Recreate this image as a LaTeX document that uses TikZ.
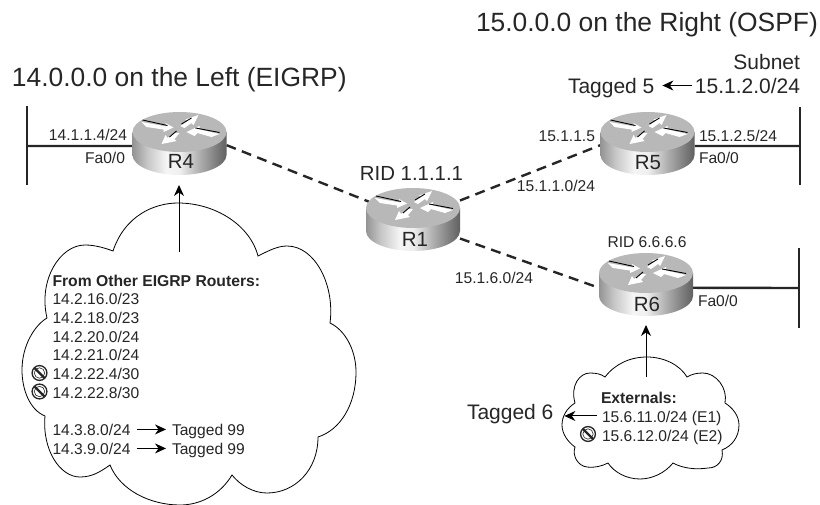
\documentclass[tikz,border=0pt]{standalone}
\usepackage{fontspec}
\setmainfont{Liberation Sans}
\usetikzlibrary{arrows.meta,calc}
\definecolor{ink}{HTML}{262626}
\pgfdeclarehorizontalshading{routerbody}{100bp}{
 color(0bp)=(black!42); color(25bp)=(black!42); color(33bp)=(black!22); color(43bp)=(black!4);
 color(50bp)=(black!6); color(60bp)=(black!30); color(70bp)=(black!52); color(75bp)=(black!62); color(100bp)=(black!62)}
\tikzset{
 txt/.style={inner sep=0pt,outer sep=0pt,text=ink,anchor=base west,font=\fontsize{15.6}{18}\selectfont},
 txtr/.style={txt,anchor=base east},
 big/.style={font=\fontsize{21}{25}\selectfont},
 title/.style={font=\fontsize{26.4}{30}\selectfont},
 rlabel/.style={inner sep=0pt,text=ink,anchor=base,font=\fontsize{20.5}{24}\selectfont},
 routerbox/.style={rectangle,minimum width=94pt,minimum height=63pt,inner sep=0pt,outer sep=0pt},
 wire/.style={line width=2.4pt,draw=black!85},
 bar/.style={line width=2.6pt,draw=black!85},
 wan/.style={line width=2.4pt,draw=black!85,dash pattern=on 10pt off 6.5pt},
 flow/.style={line width=1pt,draw=black,-{Stealth[length=11pt,width=10pt]}},
 cloudline/.style={line width=0.8pt,draw=black,fill=white},
 edgeline/.style={black,line width=.9pt},
}
\newcommand{\routerart}[2]{%
 \begin{scope}[shift={(#1,#2)}]
  \shade[shading=routerbody] (-47,0) -- (-47,23) .. controls (-47,34) and (-26,43) .. (0,43)
     .. controls (26,43) and (47,34) .. (47,23) -- (47,0) -- cycle;
  \fill[black!28] (-47,0) .. controls (-47,-11) and (-26,-20) .. (0,-20)
     .. controls (26,-20) and (47,-11) .. (47,0) .. controls (47,11) and (26,20) .. (0,20)
     .. controls (-26,20) and (-47,11) .. (-47,0) -- cycle;
  % white arrows
  \fill[white] (-38,-10) -- (-13,-5.5) -- (-14,-9) -- (-6,-4.5) -- (-16,0) -- (-16,-2.5) -- (-33,-5) -- cycle;
  \draw[edgeline] (-37,-12) -- (-12,-6.5);
  \fill[white] (1,-6) -- (8,-11) -- (6,-12.5) -- (19,-17) -- (14,-7) -- (12,-9) -- (5,-4) -- cycle;
  \draw[edgeline] (2,-8) -- (12,-14);
  \fill[white] (40,2) -- (20,-2.5) -- (20,-6) -- (7,0) -- (15,4) -- (18,1) -- (32,5) -- cycle;
  \draw[edgeline] (16,-4) -- (40,0.5);
  \fill[white] (0,1) -- (-5,7) -- (-3,9) -- (-18,12) -- (-14,3) -- (-12,6) -- (-5,1) -- cycle;
  \draw[edgeline] (-3,-1) -- (-10,5);
 \end{scope}}
\newcommand{\nosym}[2]{%
 \draw[black!85,line width=1.3pt] (#1,#2) circle[radius=7.4pt];
 \draw[black!85,line width=.6pt] (#1,#2) circle[radius=5.2pt];
 \draw[black!85,line width=2.2pt] ($(#1,#2)+(-5,-5)$) -- ($(#1,#2)+(5,5)$);}
\begin{document}
\begin{tikzpicture}[x=1pt,y=-1pt]
\useasboundingbox (0,0) rectangle (820,504);
% router anchors
\node[routerbox] (R4) at (179.5,143.5) {};
\node[routerbox] (R1) at (413,219.5) {};
\node[routerbox] (R5) at (647.5,143.5) {};
\node[routerbox] (R6) at (646,284.5) {};
% LAN bars
\coordinate (B4a) at (27,106); \coordinate (B4b) at (27,185); \coordinate (B4m) at (27,146);
\coordinate (B5a) at (800,107); \coordinate (B5b) at (800,185); \coordinate (B5m) at (800,146);
\coordinate (B6a) at (799,248); \coordinate (B6b) at (799,328); \coordinate (B6m) at (799,288);
\draw[bar] (B4a) -- (B4b);
\draw[bar] (B5a) -- (B5b);
\draw[bar] (B6a) -- (B6b);
\draw[wire] (B4m) -- (R4.183);
\draw[wire] (B5m) -- (R5.-3);
\draw[wire] (B6m) -- (R6.-4);
% WAN links
\draw[wan,shorten >=-3pt] (R4.-2) -- (R1.158);
\draw[wan,shorten >=-3pt] (R1.22) -- (R5.182);
\draw[wan] (R1.-22) -- (R6.184);
% routers
\routerart{179.5}{132}
\routerart{413}{208}
\routerart{647.5}{132}
\routerart{646}{273}
\node[rlabel] (L4) at (181,168) {R4};
\node[rlabel] (L1) at (415,246) {R1};
\node[rlabel] (L5) at (648,169) {R5};
\node[rlabel] (L6) at (647,311) {R6};
% clouds
\draw[cloudline] (113,251) .. controls (125,215) and (155,203) .. (178,203)
  .. controls (215,203) and (250,225) .. (258,256)
  .. controls (270,250) and (278,246) .. (287,246)
  .. controls (315,246) and (335,285) .. (330,323)
  .. controls (345,330) and (356,350) .. (356,372)
  .. controls (356,405) and (340,430) .. (318,437)
  .. controls (318,470) and (295,493) .. (267,493)
  .. controls (253,493) and (240,485) .. (232,475)
  .. controls (220,495) and (200,505) .. (180,505)
  .. controls (150,505) and (120,490) .. (110,465)
  .. controls (100,472) and (92,477) .. (80,477)
  .. controls (60,477) and (42,450) .. (45,416)
  .. controls (30,410) and (22,390) .. (22,370)
  .. controls (22,345) and (35,325) .. (47,318)
  .. controls (38,280) and (60,245) .. (85,245)
  .. controls (95,245) and (105,248) .. (113,251) -- cycle;
\draw[cloudline] (575,403) .. controls (570,385) and (580,373) .. (590,373)
  .. controls (596,373) and (601,374) .. (605,377)
  .. controls (615,364) and (630,357) .. (647,357)
  .. controls (664,357) and (680,365) .. (687,377)
  .. controls (692,374) and (697,373) .. (703,373)
  .. controls (716,373) and (728,388) .. (725,403)
  .. controls (733,408) and (739,416) .. (739,425)
  .. controls (739,437) and (732,446) .. (722,450)
  .. controls (724,460) and (718,468) .. (708,468)
  .. controls (695,470) and (682,468) .. (673,463)
  .. controls (665,473) and (652,479) .. (640,479)
  .. controls (626,479) and (614,472) .. (608,463)
  .. controls (602,466) and (595,468) .. (587,467)
  .. controls (578,466) and (572,456) .. (575,447)
  .. controls (568,442) and (562,434) .. (562,425)
  .. controls (562,416) and (567,408) .. (575,403) -- cycle;
% titles
\node[txt,title] (T1) at (12,86) {14.0.0.0 on the Left (EIGRP)};
\node[txt,title] (T2) at (476,31) {15.0.0.0 on the Right (OSPF)};
% router labels
\node[txtr] (a1) at (127,140) {14.1.1.4/24};
\node[txtr] (a2) at (125,163) {Fa0/0};
\node[txt,anchor=base,font=\fontsize{20.4}{24}\selectfont] (rid1) at (411.5,180) {RID 1.1.1.1};
\node[txt,anchor=base] (rid6) at (647,247) {RID 6.6.6.6};
\node[txtr,big] (sub) at (800,69) {Subnet};
\node[txtr,big] (n5) at (800,93) {15.1.2.0/24};
\node[txt,big] (t5) at (568,93) {Tagged 5};
\draw[line width=1pt,black,-{Stealth[length=11pt,width=10pt]},shorten <=3pt,shorten >=8pt] (n5.west) -- (n5.west -| t5.east);
\node[txt] (a3) at (699,141) {15.1.2.5/24};
\node[txt] (a4) at (699,163) {Fa0/0};
\node[txtr] (a5) at (595,141) {15.1.1.5};
\node[txtr] (a6) at (595,191) {15.1.1.0/24};
\node[txtr] (a7) at (533,283) {15.1.6.0/24};
\node[txt] (a8) at (698,306) {Fa0/0};
% left cloud text
\node[txt,font=\fontsize{15.7}{18}\bfseries\selectfont] (h1) at (52.5,286) {From Other EIGRP Routers:};
\node[txt] (c1) at (52.5,304) {14.2.16.0/23};
\node[txt] (c2) at (52.5,323) {14.2.18.0/23};
\node[txt] (c3) at (52.5,342) {14.2.20.0/24};
\node[txt] (c4) at (52.5,360) {14.2.21.0/24};
\node[txt] (c5) at (52.5,379) {14.2.22.4/30};
\node[txt] (c6) at (52.5,398) {14.2.22.8/30};
\node[txt] (c7) at (52.5,435) {14.3.8.0/24};
\node[txt] (c8) at (52.5,454) {14.3.9.0/24};
\node[txt] (d7) at (172,435) {Tagged 99};
\node[txt] (d8) at (172,454) {Tagged 99};
\nosym{39.5}{373}
\nosym{39.5}{391.5}
\tikzset{small/.style={line width=1pt,black,-{Stealth[length=11pt,width=10pt]},shorten <=6pt,shorten >=6pt}}
\draw[small] (c7.east) -- (c7.east -| d7.west);
\draw[small] (c8.east) -- (c8.east -| d8.west);
\coordinate (FL) at (179,252);
\draw[flow,shorten >=10pt] (FL) -- (R4.south -| FL);
% right cloud text
\node[txt,font=\fontsize{15.7}{18}\bfseries\selectfont] (h2) at (601,403) {Externals:};
\node[txt] (e1) at (602,422) {15.6.11.0/24 (E1)};
\node[txt] (e2) at (602,441) {15.6.12.0/24 (E2)};
\nosym{588}{434}
\node[txt,big] (t6) at (467,419) {Tagged 6};
\draw[line width=1pt,black,-{Stealth[length=11pt,width=10pt]},shorten <=5pt,shorten >=11pt] ([yshift=2pt]e1.west) -- ([yshift=2pt]e1.west -| t6.east);
\coordinate (FR) at (646,377);
\draw[flow,shorten >=9pt] (FR) -- (R6.south -| FR);
\end{tikzpicture}
\end{document}
